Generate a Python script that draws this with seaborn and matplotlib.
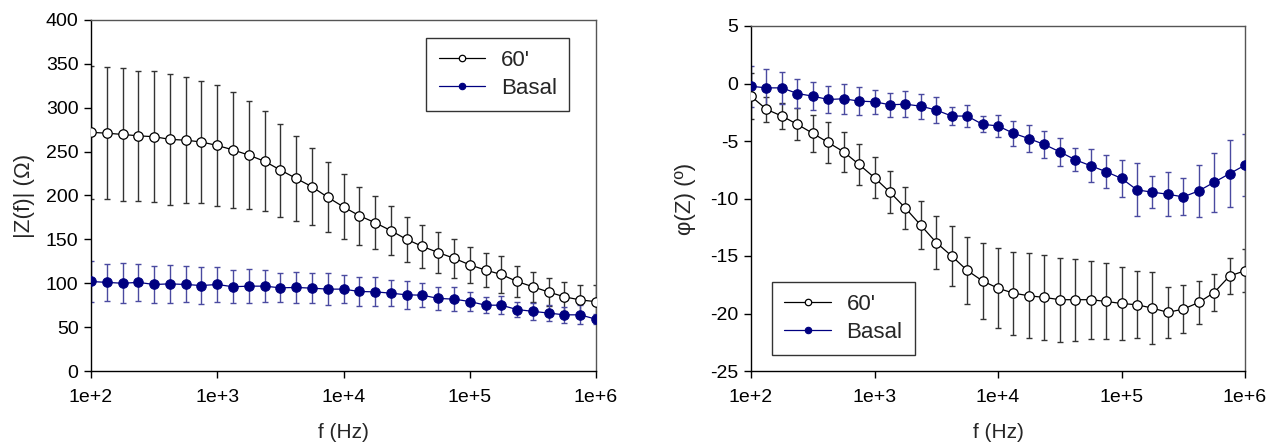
import numpy as np
import pandas as pd
import matplotlib
matplotlib.use("Agg")
import matplotlib.pyplot as plt
import seaborn as sns

# ---------------- data ----------------
freq_exp = [2 + i / 8 for i in range(33)]  # 8 points per decade, 1e2 .. 1e6
freq = [10 ** e for e in freq_exp]

z_60 = [272, 271, 269.6, 268, 267, 264, 263, 261, 257, 252, 246, 239, 229, 219.5,
        210, 198, 187, 177, 169, 160, 150, 142, 135, 128.5, 121, 115, 110, 102,
        96, 90, 84.5, 81, 79]
z_60_err = [75.5, 75, 75.5, 74, 74.5, 74.5, 72, 70, 68.5, 66, 61.5, 57, 53, 48,
            44, 40, 37, 33, 30, 28, 26, 24.5, 23, 22, 20.5, 19.5, 21.5, 18, 17,
            16, 16.5, 17, 19]
z_basal = [102, 101, 100, 101, 98.6, 99.3, 98.6, 97.4, 98.6, 96, 96.7, 96.7, 94.8,
           95.2, 94.4, 93.3, 93.3, 90.6, 90.2, 88.7, 86.8, 86.4, 82.7, 81.9, 79.2,
           75, 75, 70, 68, 66, 64, 64, 59]
z_basal_err = [23, 21, 23, 21, 21.5, 22, 20.5, 21, 20, 19, 19, 18, 16.5, 18, 17,
               18, 16, 16, 16.5, 15, 16, 14, 13, 14, 11, 9, 10, 9, 10, 9, 9, 11, 6]

ph_60 = [-1.1, -2.25, -2.83, -3.55, -4.33, -5.13, -5.94, -7.04, -8.19, -9.45,
         -10.83, -12.33, -13.83, -15.0, -16.25, -17.17, -17.8, -18.23, -18.46,
         -18.6, -18.8, -18.8, -18.8, -18.95, -19.13, -19.24, -19.53, -19.9,
         -19.62, -19.04, -18.18, -16.74, -16.28]
ph_60_err = [2.0, 1.1, 1.1, 1.4, 1.6, 1.8, 1.75, 1.75, 1.8, 1.8, 1.85, 2.1, 2.3,
             2.6, 2.9, 3.3, 3.5, 3.6, 3.7, 3.7, 3.65, 3.55, 3.4, 3.3, 3.2, 2.9,
             3.1, 2.2, 2.1, 1.85, 1.6, 1.55, 1.85]
ph_basal = [-0.24, -0.38, -0.38, -0.87, -1.1, -1.39, -1.33, -1.53, -1.59, -1.85,
            -1.8, -1.97, -2.31, -2.83, -2.83, -3.55, -3.69, -4.33, -4.79, -5.3,
            -5.94, -6.63, -7.15, -7.67, -8.25, -9.25, -9.45, -9.63, -9.86, -9.34,
            -8.59, -7.84, -7.1]
ph_basal_err = [1.8, 1.6, 1.4, 1.3, 1.2, 1.2, 1.3, 1.2, 1.05, 1.05, 1.15, 1.1,
                1.15, 0.75, 0.95, 0.7, 0.95, 1.1, 1.2, 1.15, 1.2, 1.0, 1.45, 1.45,
                1.6, 2.3, 1.4, 1.9, 1.6, 2.25, 2.55, 2.9, 2.7]

series_names = ["60'", "Basal"]
xtick_vals = [1e2, 1e3, 1e4, 1e5, 1e6]
xtick_labels = ["1e+2", "1e+3", "1e+4", "1e+5", "1e+6"]

# ---------------- style ----------------
sns.set_style("white")
plt.rcParams["font.family"] = ["Liberation Sans", "DejaVu Sans"]
plt.rcParams["font.size"] = 14
plt.rcParams["axes.unicode_minus"] = False

NAVY = "#000080"
NAVY_ERR = "#4a4aa0"
BLACK = "#000000"
GRAY_ERR = "#333333"

fig = plt.figure(figsize=(12.79, 4.46), dpi=100)
ax1 = fig.add_axes([91 / 1279, 1 - 371 / 446, (596 - 91) / 1279, (371 - 20) / 446])
ax2 = fig.add_axes([751 / 1279, 1 - 371 / 446, (1245 - 751) / 1279, (371 - 26) / 446])


def draw(ax, y60, e60, yb, eb):
    df = pd.DataFrame({
        "f": freq * 2,
        "v": list(y60) + list(yb),
        "s": [series_names[0]] * len(freq) + [series_names[1]] * len(freq),
    })
    ax.errorbar(freq, y60, yerr=e60, fmt="none", ecolor=GRAY_ERR, elinewidth=1.0,
                capsize=2.3, capthick=1.0, zorder=2)
    ax.errorbar(freq, yb, yerr=eb, fmt="none", ecolor=NAVY_ERR, elinewidth=1.0,
                capsize=2.3, capthick=1.0, zorder=2)
    sns.lineplot(data=df[df.s == series_names[1]], x="f", y="v", ax=ax,
                 color=NAVY, linewidth=0.9, marker="o", markersize=6.8,
                 markerfacecolor=NAVY, markeredgecolor=NAVY, markeredgewidth=0.8,
                 label=series_names[1], zorder=3)
    sns.lineplot(data=df[df.s == series_names[0]], x="f", y="v", ax=ax,
                 color=BLACK, linewidth=0.9, marker="o", markersize=6.8,
                 markerfacecolor="white", markeredgecolor=BLACK, markeredgewidth=0.9,
                 label=series_names[0], zorder=4)
    ax.set_xscale("log")
    ax.set_xlim(1e2, 1e6)
    ax.set_xticks(xtick_vals)
    ax.set_xticklabels(xtick_labels)
    ax.minorticks_off()
    ax.tick_params(axis="both", which="major", direction="out", length=5, width=1,
                   color="black", labelsize=14, labelcolor="black", pad=4)
    ax.tick_params(axis="x", bottom=True, pad=8)
    ax.tick_params(axis="y", left=True)
    for side in ["left", "bottom"]:
        ax.spines[side].set_color("black")
        ax.spines[side].set_linewidth(1.0)
    for side in ["top", "right"]:
        ax.spines[side].set_color("#555555")
        ax.spines[side].set_linewidth(1.0)
    ax.set_xlabel("f (Hz)", fontsize=15, labelpad=12)
    ax.grid(False)


draw(ax1, z_60, z_60_err, z_basal, z_basal_err)
ax1.set_ylim(0, 400)
ax1.set_yticks(np.arange(0, 401, 50))
ax1.set_ylabel("|Z(f)| (Ω)", fontsize=16, labelpad=8)

draw(ax2, ph_60, ph_60_err, ph_basal, ph_basal_err)
ax2.set_ylim(-25, 5)
ax2.set_yticks(np.arange(-25, 6, 5))
ax2.set_ylabel("φ(Z) (º)", fontsize=16, labelpad=10)


def make_legend(ax, loc, anchor):
    h, l = ax.get_legend_handles_labels()
    order = [l.index(series_names[0]), l.index(series_names[1])]
    leg = ax.legend([h[i] for i in order], [l[i] for i in order], loc=loc,
                    bbox_to_anchor=anchor, frameon=True, fancybox=False,
                    edgecolor="black", fontsize=16, handlelength=2.1,
                    handletextpad=0.7, borderpad=0.55, labelspacing=0.3,
                    borderaxespad=0.0, markerscale=0.68)
    leg.get_frame().set_linewidth(1.0)
    return leg


make_legend(ax1, "upper right", (0.9465, 0.949))
make_legend(ax2, "lower left", (0.0425, 0.046))

fig.savefig("out.png", dpi=100)
